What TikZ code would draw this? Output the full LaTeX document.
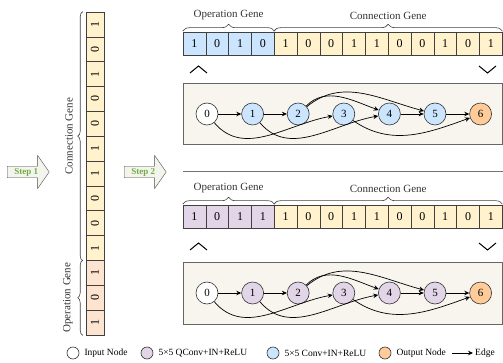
\documentclass[tikz,border=0pt]{standalone}
\usepackage{graphicx}
\usepackage{fontspec}
\setmainfont{Liberation Serif}
\usetikzlibrary{positioning,arrows.meta,shapes.arrows,decorations.pathreplacing}
\definecolor{conncol}{RGB}{255,242,204}
\definecolor{opcol}{RGB}{252,228,208}
\definecolor{bluecol}{RGB}{204,229,255}
\definecolor{purpcol}{RGB}{225,213,231}
\definecolor{outcol}{RGB}{255,204,153}
\definecolor{boxcol}{RGB}{247,245,238}
\definecolor{stepcol}{RGB}{112,173,71}
\definecolor{stepfill}{RGB}{243,244,236}
\tikzset{
  stepbox/.style={single arrow,draw=black!70,fill=stepfill,anchor=tail,
    single arrow head extend=10.5pt,single arrow tip angle=110,minimum width=33pt,minimum height=42pt,
    inner sep=1.5pt,text=stepcol,font=\fontsize{9}{9}\selectfont\bfseries},
  hcell/.style={draw=black!75,line width=0.6pt,minimum width=22.8pt,minimum height=23pt,
    inner sep=0pt,font=\fontsize{12}{12}\selectfont},
  vcell/.style={draw=black!75,line width=0.6pt,minimum width=18pt,minimum height=24.85pt,
    inner sep=0pt,font=\fontsize{12}{12}\selectfont},
  hbrace/.style={decorate,decoration={brace,amplitude=7pt,raise=0.5pt},line width=0.6pt,black!75},
  vbrace/.style={decorate,decoration={brace,amplitude=5pt,raise=3pt},line width=0.6pt,black!75},
  hlab/.style={midway,above,inner sep=1pt,outer sep=11pt,text=black!80,font=\fontsize{11}{11}\selectfont},
  vlab/.style={midway,rotate=90,anchor=south,inner sep=1pt,outer sep=12pt,text=black!80,font=\fontsize{11}{11}\selectfont},
  gnode/.style={circle,draw=black!80,line width=0.6pt,minimum size=22pt,inner sep=0pt,font=\fontsize{11}{11}\selectfont},
  gbox/.style={draw=black!60,fill=boxcol,line width=0.9pt},
  edgearr/.style={-{Stealth[length=5pt,width=4.5pt]},line width=0.7pt},
  chev/.style={line width=1pt},
  legc/.style={circle,draw=black!80,line width=0.6pt,minimum size=12pt,inner sep=0pt},
  legt/.style={inner sep=1pt,font=\fontsize{9.5}{9.5}\selectfont}
}

\begin{document}
\begin{tikzpicture}[x=1pt,y=1pt]
\useasboundingbox (0,0) rectangle (503,-363);

% steps
\node[stepbox] (step_1) at (7,-172) {Step 1};
\node[stepbox] (step_2) at (124,-172) {Step 2};

% vertical chromosome
\foreach \b [count=\i from 0] in {1,0,1,0,0,1,1,0,0,1}
  \node[vcell,fill=conncol] (v_\i) at (95,-24.4-24.85*\i) {\rotatebox{90}{\b}};
\foreach \b [count=\i from 10] in {1,0,1}
  \node[vcell,fill=opcol] (v_\i) at (95,-24.4-24.85*\i) {\rotatebox{90}{\b}};
\draw[vbrace] (v_9.south west) -- node[vlab] (v_conn) {Connection Gene} (v_0.north west);
\draw[vbrace] (v_12.south west) -- node[vlab] (v_op) {Operation Gene} (v_10.north west);

% upper chromosome
\foreach \b [count=\i from 0] in {1,0,1,0}
  \node[hcell,fill=bluecol] (t_\i) at (194.4+22.8*\i,-43.5) {\b};
\foreach \b [count=\i from 4] in {1,0,0,1,1,0,0,1,0,1}
  \node[hcell,fill=conncol] (t_\i) at (194.4+22.8*\i,-43.5) {\b};
\draw[hbrace] (t_0.north west) -- node[hlab] (t_op) {Operation Gene} (t_3.north east);
\draw[hbrace] (t_4.north west) -- node[hlab] (t_conn) {Connection Gene} (t_13.north east);
\draw[chev] (190,-73) -- (198.5,-66) -- (207,-73);
\draw[chev] (479,-66) -- (487.5,-73) -- (496,-66);

% upper graph
\draw[gbox] (183,-83) rectangle (502,-144);
\node[gnode,fill=white] (a_0) at (207,-114) {0};
\node[gnode,fill=bluecol] (a_1) [right=23pt of a_0] {1};
\node[gnode,fill=bluecol] (a_2) [right=23pt of a_1] {2};
\node[gnode,fill=bluecol] (a_3) [right=23pt of a_2] {3};
\node[gnode,fill=bluecol] (a_4) [right=23pt of a_3] {4};
\node[gnode,fill=bluecol] (a_5) [right=23pt of a_4] {5};
\node[gnode,fill=outcol] (a_6) [right=23pt of a_5] {6};
\path[edgearr]
  (a_0) edge (a_1)
        edge [out=-50,in=190] (a_3)
  (a_1) edge (a_2)
        edge [out=-50,in=190] (a_4)
  (a_2) edge [out=45,in=160] (a_4)
        edge [out=40,in=165] (a_5)
  (a_3) edge [out=-35,in=200] (a_6)
  (a_4) edge (a_5)
  (a_5) edge (a_6);

% separator
\coordinate (sep_l) at (183,-172);
\coordinate (sep_r) at (503,-172);
\draw[black!55,line width=1pt] (sep_l) -- (sep_r);

% lower chromosome
\foreach \b [count=\i from 0] in {1,0,1,1}
  \node[hcell,fill=purpcol] (s_\i) at (194.4+22.8*\i,-216.5) {\b};
\foreach \b [count=\i from 4] in {1,0,0,1,1,0,0,1,0,1}
  \node[hcell,fill=conncol] (s_\i) at (194.4+22.8*\i,-216.5) {\b};
\draw[hbrace] (s_0.north west) -- node[hlab] (s_op) {Operation Gene} (s_3.north east);
\draw[hbrace] (s_4.north west) -- node[hlab] (s_conn) {Connection Gene} (s_13.north east);
\draw[chev] (190,-250) -- (198.5,-243) -- (207,-250);
\draw[chev] (479,-243) -- (487.5,-250) -- (496,-243);

% lower graph
\draw[gbox] (183,-262) rectangle (502,-324);
\node[gnode,fill=white] (b_0) at (207,-293) {0};
\node[gnode,fill=purpcol] (b_1) [right=23pt of b_0] {1};
\node[gnode,fill=purpcol] (b_2) [right=23pt of b_1] {2};
\node[gnode,fill=purpcol] (b_3) [right=23pt of b_2] {3};
\node[gnode,fill=purpcol] (b_4) [right=23pt of b_3] {4};
\node[gnode,fill=purpcol] (b_5) [right=23pt of b_4] {5};
\node[gnode,fill=outcol] (b_6) [right=23pt of b_5] {6};
\path[edgearr]
  (b_0) edge (b_1)
        edge [out=-50,in=190] (b_3)
  (b_1) edge (b_2)
        edge [out=-50,in=190] (b_4)
  (b_2) edge [out=45,in=160] (b_4)
        edge [out=40,in=165] (b_5)
  (b_3) edge [out=-35,in=200] (b_6)
  (b_4) edge (b_5)
  (b_5) edge (b_6);

% legend
\node[legc,fill=white] (l_in) at (73,-353) {};
\node[legt] (lt_in) [right=4pt of l_in] {Input Node};
\node[legc,fill=purpcol] (l_q) at (147,-353) {};
\node[legt] (lt_q) [right=4pt of l_q] {5×5 QConv+IN+ReLU};
\node[legc,fill=bluecol] (l_c) at (273,-353) {};
\node[legt] (lt_c) [right=4pt of l_c] {5×5 Conv+IN+ReLU};
\node[legc,fill=outcol] (l_out) at (385,-353) {};
\node[legt] (lt_out) [right=4pt of l_out] {Output Node};
\coordinate (le_a) at (452,-353);
\coordinate (le_b) at (473,-353);
\draw[edgearr] (le_a) -- (le_b);
\node[legt] (lt_e) [right=1pt of le_b] {Edge};
\end{tikzpicture}
\end{document}
